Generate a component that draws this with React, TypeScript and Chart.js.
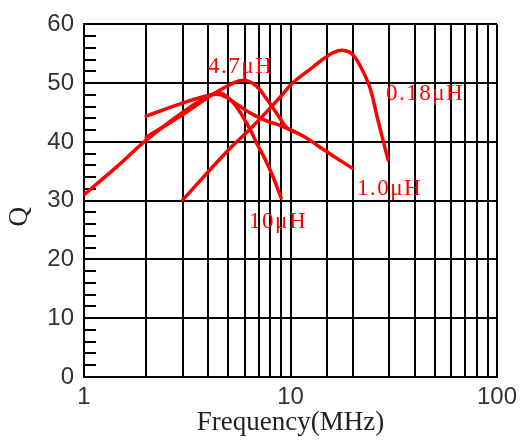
import React, { useEffect, useRef } from 'react';
import { Chart, registerables } from 'chart.js';

Chart.register(...registerables);

// ---- data ----
const freq10uH = [1, 1.5, 2, 3, 4, 4.6, 5.3, 5.9, 6.4, 6.9, 7.5, 8.2, 9];
const q10uH = [31, 36.3, 40.3, 45, 47.8, 48.3, 46.6, 44.2, 42, 39.6, 37.2, 34.2, 30.5];

const freq47uH = [2, 3, 4, 5, 5.9, 6.8, 7.6, 8.6, 9.6, 10.5];
const q47uH = [40.8, 44.6, 47.6, 49.6, 50.5, 49.6, 47.5, 44.8, 42.4, 41.7];

const freq10u = [2, 3, 4, 4.6, 5.5, 6.4, 7.4, 9.2, 11.5, 13.9, 16.1, 20];
const q10u = [44.4, 46.6, 47.9, 48, 46.4, 44.9, 43.8, 42.6, 41, 39.1, 37.6, 35.5];

const freq018uH = [3, 4.9, 6.5, 8.9, 10.3, 12.8, 14.5, 16.1, 17.8, 19.8, 21.7, 24.2, 26.5, 29.7];
const q018uH = [30.1, 38.3, 42.5, 47.6, 50.1, 52.7, 54.2, 55.2, 55.6, 55, 53, 49.3, 43.7, 36.9];

const seriesNames = ['10μH', '4.7μH', '1.0μH', '0.18μH'];
const seriesFreqs = [freq10uH, freq47uH, freq10u, freq018uH];
const seriesQs = [q10uH, q47uH, q10u, q018uH];

// curve labels, anchored in data units (frequency, Q of text baseline-left)
const labelTexts = ['4.7μH', '0.18μH', '1.0μH', '10μH'];
const labelFreqs = [3.99, 29.0, 21.0, 6.3];
const labelQs = [51.8, 47.1, 30.9, 25.3];

const xTickLabels = [1, 10, 100];
const yMin = 0;
const yMax = 60;
const yStep = 10;
const yMinorStep = 2;

const RED = 'rgb(255,0,0)';

const minorTicksPlugin = {
  id: 'minorTicks',
  beforeDatasetsDraw(chart: any) {
    const { ctx, scales } = chart;
    const y = scales.y;
    const left = chart.chartArea.left;
    ctx.save();
    ctx.strokeStyle = '#000';
    ctx.lineWidth = 2;
    for (let v = yMin + yMinorStep; v < yMax; v += yMinorStep) {
      if (v % yStep === 0) continue;
      const py = Math.round(y.getPixelForValue(v));
      ctx.beginPath();
      ctx.moveTo(left, py);
      ctx.lineTo(left + 12, py);
      ctx.stroke();
    }
    ctx.restore();
  },
};

const labelsPlugin = {
  id: 'curveLabels',
  afterDatasetsDraw(chart: any) {
    const { ctx, scales } = chart;
    ctx.save();
    ctx.fillStyle = RED;
    ctx.font = '23px "Liberation Serif"';
    (ctx as any).letterSpacing = '1.5px';
    ctx.textAlign = 'left';
    ctx.textBaseline = 'alphabetic';
    labelTexts.forEach((t, i) => {
      ctx.fillText(t, scales.x.getPixelForValue(labelFreqs[i]), scales.y.getPixelForValue(labelQs[i]));
    });
    ctx.restore();
  },
};

const yTitlePlugin = {
  id: 'yTitle',
  afterDraw(chart: any) {
    const { ctx, chartArea } = chart;
    ctx.save();
    ctx.fillStyle = '#222';
    ctx.font = '27px "Liberation Serif"';
    ctx.textAlign = 'center';
    ctx.textBaseline = 'middle';
    ctx.translate(20, (chartArea.top + chartArea.bottom) / 2 + 16);
    ctx.rotate(-Math.PI / 2);
    ctx.fillText('Q', 0, 0);
    ctx.restore();
  },
};

export default function App() {
  const ref = useRef<HTMLCanvasElement>(null);
  useEffect(() => {
    if (!ref.current) return;
    const chart = new Chart(ref.current, {
      type: 'scatter',
      data: {
        datasets: seriesNames.map((name, i) => ({
          label: name,
          data: seriesFreqs[i].map((f, j) => ({ x: f, y: seriesQs[i][j] })),
          showLine: true,
          borderColor: RED,
          backgroundColor: RED,
          borderWidth: 3.5,
          borderCapStyle: 'round' as const,
          borderJoinStyle: 'round' as const,
          pointRadius: 0,
          tension: 0.4,
        })),
      },
      options: {
        animation: false,
        responsive: false,
        layout: { padding: { top: 24, right: 27, left: 0, bottom: 0 } },
        plugins: { legend: { display: false }, tooltip: { enabled: false } },
        scales: {
          x: {
            type: 'logarithmic',
            min: 1,
            max: 100,
            afterFit: (s: any) => {
              s.height = 69;
            },
            grid: { color: '#000', lineWidth: 2, drawTicks: false },
            border: { color: '#000', width: 2 },
            ticks: {
              autoSkip: false,
              maxRotation: 0,
              padding: 6,
              color: '#333',
              font: { family: '"Liberation Sans"', size: 24 },
              callback: (v: any) => {
                const n = Number(v);
                return xTickLabels.some((t) => Math.abs(t - n) < 1e-9) ? String(n) : '';
              },
            },
            title: {
              display: true,
              text: 'Frequency(MHz)',
              color: '#222',
              font: { family: '"Liberation Serif"', size: 27, lineHeight: 1 },
              padding: { top: 0, bottom: 10 },
            },
          },
          y: {
            min: yMin,
            max: yMax,
            afterFit: (s: any) => {
              s.width = 84;
            },
            grid: { color: '#000', lineWidth: 2, drawTicks: false },
            border: { color: '#000', width: 2 },
            ticks: {
              stepSize: yStep,
              padding: 10,
              color: '#333',
              font: { family: '"Liberation Sans"', size: 24 },
            },
          },
        },
      },
      plugins: [minorTicksPlugin, labelsPlugin, yTitlePlugin],
    });
    return () => chart.destroy();
  }, []);
  return (
    <div style={{ position: 'absolute', left: 0, top: 0, width: 524, height: 446, background: '#fff' }}>
      <canvas ref={ref} width={524} height={446} style={{ width: 524, height: 446 }} />
    </div>
  );
}
